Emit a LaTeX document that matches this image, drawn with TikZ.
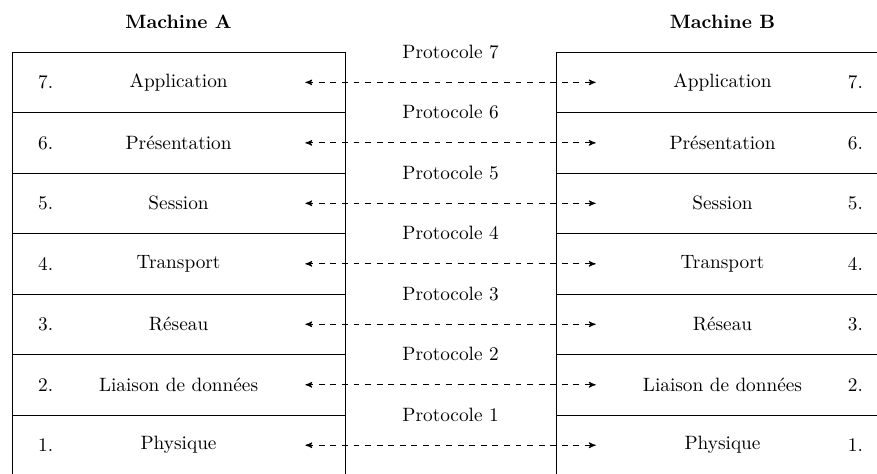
\documentclass[tikz,border=0pt]{standalone}
\usepackage{tikz}
\usetikzlibrary{arrows,positioning}

\begin{document}
\begin{tikzpicture}[<->,>=stealth',node distance=1.102cm,
    layer/.style={draw,minimum width=6.07cm,minimum height=1.102cm}]

\useasboundingbox (0,0) rectangle (15.98,8.62);

\node[layer] (a7) at (3.254,7.119) {Application};
\node[layer] (a6) [below of=a7] {Présentation};
\node[layer] (a5) [below of=a6] {Session};
\node[layer] (a4) [below of=a5] {Transport};
\node[layer] (a3) [below of=a4] {Réseau};
\node[layer] (a2) [below of=a3] {Liaison de données};
\node[layer] (a1) [below of=a2] {Physique};

\node[layer] (b7) at (13.165,7.119) {Application};
\node[layer] (b6) [below of=b7] {Présentation};
\node[layer] (b5) [below of=b6] {Session};
\node[layer] (b4) [below of=b5] {Transport};
\node[layer] (b3) [below of=b4] {Réseau};
\node[layer] (b2) [below of=b3] {Liaison de données};
\node[layer] (b1) [below of=b2] {Physique};

\node[font=\bfseries] (ma) [above=0.3cm of a7] {Machine A};
\node[font=\bfseries] (mb) [above=0.3cm of b7] {Machine B};

\node (na7) at ([xshift=0.62cm]a7.west) {7.};
\node (na6) at ([xshift=0.62cm]a6.west) {6.};
\node (na5) at ([xshift=0.62cm]a5.west) {5.};
\node (na4) at ([xshift=0.62cm]a4.west) {4.};
\node (na3) at ([xshift=0.62cm]a3.west) {3.};
\node (na2) at ([xshift=0.62cm]a2.west) {2.};
\node (na1) at ([xshift=0.62cm]a1.west) {1.};

\node (nb7) at ([xshift=-0.62cm]b7.east) {7.};
\node (nb6) at ([xshift=-0.62cm]b6.east) {6.};
\node (nb5) at ([xshift=-0.62cm]b5.east) {5.};
\node (nb4) at ([xshift=-0.62cm]b4.east) {4.};
\node (nb3) at ([xshift=-0.62cm]b3.east) {3.};
\node (nb2) at ([xshift=-0.62cm]b2.east) {2.};
\node (nb1) at ([xshift=-0.62cm]b1.east) {1.};

\path (a7.center) edge [dashed,shorten <=2.31cm,shorten >=2.31cm] (b7.center);
\path (a6.center) edge [dashed,shorten <=2.31cm,shorten >=2.31cm] (b6.center);
\path (a5.center) edge [dashed,shorten <=2.31cm,shorten >=2.31cm] (b5.center);
\path (a4.center) edge [dashed,shorten <=2.31cm,shorten >=2.31cm] (b4.center);
\path (a3.center) edge [dashed,shorten <=2.31cm,shorten >=2.31cm] (b3.center);
\path (a2.center) edge [dashed,shorten <=2.31cm,shorten >=2.31cm] (b2.center);
\path (a1.center) edge [dashed,shorten <=2.31cm,shorten >=2.31cm] (b1.center);

\path (a7.north east) -- node {Protocole 7} (b7.north west);
\path (a6.north east) -- node {Protocole 6} (b6.north west);
\path (a5.north east) -- node {Protocole 5} (b5.north west);
\path (a4.north east) -- node {Protocole 4} (b4.north west);
\path (a3.north east) -- node {Protocole 3} (b3.north west);
\path (a2.north east) -- node {Protocole 2} (b2.north west);
\path (a1.north east) -- node {Protocole 1} (b1.north west);

\end{tikzpicture}
\end{document}
